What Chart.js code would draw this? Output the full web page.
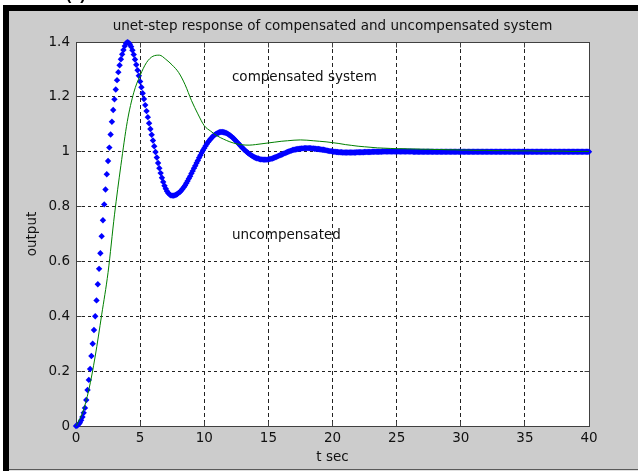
<!DOCTYPE html>
<html>
<head>
<meta charset="utf-8">
<script src="https://cdn.jsdelivr.net/npm/chart.js@4.4.1/dist/chart.umd.min.js"></script>
<style>
html,body{margin:0;padding:0;background:#fff;overflow:hidden}
#wrap{width:638px;height:471px;position:relative}
canvas{display:block}
</style>
</head>
<body>
<div id="wrap"><canvas id="c" width="638" height="471"></canvas></div>
<script>
// ---- texts and ticks ----
const titleText = 'unet-step response of compensated and uncompensated system';
const xLabel = 't sec';
const yLabel = 'output';
const xTicks = [0, 5, 10, 15, 20, 25, 30, 35, 40];
const xTickLabels = ['0', '5', '10', '15', '20', '25', '30', '35', '40'];
const yTicks = [0, 0.2, 0.4, 0.6, 0.8, 1.0, 1.2, 1.4];
const yTickLabels = ['0', '0.2', '0.4', '0.6', '0.8', '1', '1.2', '1.4'];
const noteTexts = ['compensated system', 'uncompensated'];
const noteT = [12.16, 12.16];
const noteV = [1.272, 0.695];

// ---- uncompensated response (blue markers), t = 0 .. 40, step 0.1 ----
const uncompStart = 0, uncompStep = 0.1;
const uncompensated = [
  // 0.0 - 8.0
  0.000, 0.002, 0.006, 0.012, 0.021, 0.033, 0.048, 0.066, 0.095, 0.131,
  0.168, 0.208, 0.255, 0.300, 0.350, 0.400, 0.458, 0.517, 0.573, 0.630,
  0.692, 0.750, 0.808, 0.862, 0.918, 0.966, 1.015, 1.063, 1.109, 1.152,
  1.191, 1.227, 1.261, 1.290, 1.315, 1.337, 1.355, 1.371, 1.385, 1.395,
  1.399, 1.397, 1.392, 1.383, 1.370, 1.354, 1.336, 1.317, 1.297, 1.277,
  1.256, 1.235, 1.213, 1.192, 1.170, 1.148, 1.126, 1.104, 1.083, 1.062,
  1.041, 1.020, 0.999, 0.979, 0.959, 0.940, 0.922, 0.905, 0.890, 0.876,
  0.865, 0.856, 0.849, 0.844, 0.841, 0.840, 0.840, 0.841, 0.843, 0.846,
  0.850,
  // 8.1 - 9.0
  0.853, 0.858, 0.864, 0.870, 0.877, 0.885, 0.893, 0.902, 0.911, 0.921,
  // 9.1 - 10.0
  0.930, 0.940, 0.949, 0.959, 0.968, 0.978, 0.987, 0.996, 1.005, 1.013,
  // 10.1 - 11.0
  1.021, 1.028, 1.035, 1.041, 1.047, 1.052, 1.057, 1.061, 1.064, 1.067,
  // 11.1 - 12.0
  1.069, 1.071, 1.072, 1.072, 1.071, 1.070, 1.068, 1.066, 1.063, 1.060,
  // 12.1 - 13.0
  1.056, 1.052, 1.048, 1.043, 1.038, 1.033, 1.028, 1.023, 1.018, 1.013,
  // 13.1 - 14.0
  1.008, 1.004, 1.000, 0.996, 0.992, 0.989, 0.986, 0.983, 0.980, 0.978,
  // 14.1 - 15.0
  0.976, 0.975, 0.973, 0.972, 0.972, 0.971, 0.971, 0.971, 0.971, 0.972,
  // 15.1 - 16.0
  0.973, 0.974, 0.975, 0.977, 0.979, 0.981, 0.983, 0.985, 0.987, 0.989,
  // 16.1 - 17.0
  0.991, 0.993, 0.995, 0.997, 0.999, 1.001, 1.003, 1.004, 1.006, 1.007,
  // 17.1 - 18.0
  1.008, 1.009, 1.010, 1.011, 1.011, 1.012, 1.012, 1.013, 1.013, 1.013,
  // 18.1 - 19.0
  1.013, 1.013, 1.013, 1.012, 1.012, 1.011, 1.011, 1.010, 1.010, 1.009,
  // 19.1 - 20.0
  1.008, 1.007, 1.007, 1.006, 1.005, 1.004, 1.003, 1.002, 1.002, 1.001,
  // 20.1 - 21.0
  1.000, 1.000, 0.999, 0.999, 0.998, 0.998, 0.998, 0.997, 0.997, 0.997,
  // 21.1 - 22.0
  0.997, 0.997, 0.997, 0.997, 0.997, 0.997, 0.997, 0.997, 0.998, 0.998,
  // 22.1 - 23.0
  0.998, 0.998, 0.998, 0.998, 0.999, 0.999, 0.999, 0.999, 0.999, 0.999,
  // 23.1 - 24.0
  1.000, 1.000, 1.000, 1.000, 1.000, 1.000, 1.000, 1.000, 1.001, 1.001,
  // 24.1 - 25.0
  1.001, 1.001, 1.001, 1.001, 1.001, 1.001, 1.001, 1.001, 1.001, 1.001,
  // 25.1 - 26.0
  1.001, 1.001, 1.001, 1.001, 1.001, 1.001, 1.001, 1.001, 1.001, 1.001,
  // 26.1 - 27.0
  1.001, 1.001, 1.000, 1.000, 1.000, 1.000, 1.000, 1.000, 1.000, 1.000,
  // 27.1 - 28.0
  1.000, 1.000, 1.000, 1.000, 1.000, 1.000, 1.000, 1.000, 1.000, 1.000,
  // 28.1 - 29.0
  1.000, 1.000, 1.000, 1.000, 1.000, 1.000, 1.000, 1.000, 1.000, 1.000,
  // 29.1 - 30.0
  1.000, 1.000, 1.000, 1.000, 1.000, 1.000, 1.000, 1.000, 1.000, 1.000,
  // 30.1 - 31.0
  1.000, 1.000, 1.000, 1.000, 1.000, 1.000, 1.000, 1.000, 1.000, 1.000,
  // 31.1 - 32.0
  1.000, 1.000, 1.000, 1.000, 1.000, 1.000, 1.000, 1.000, 1.000, 1.000,
  // 32.1 - 33.0
  1.000, 1.000, 1.000, 1.000, 1.000, 1.000, 1.000, 1.000, 1.000, 1.000,
  // 33.1 - 34.0
  1.000, 1.000, 1.000, 1.000, 1.000, 1.000, 1.000, 1.000, 1.000, 1.000,
  // 34.1 - 35.0
  1.000, 1.000, 1.000, 1.000, 1.000, 1.000, 1.000, 1.000, 1.000, 1.000,
  // 35.1 - 36.0
  1.000, 1.000, 1.000, 1.000, 1.000, 1.000, 1.000, 1.000, 1.000, 1.000,
  // 36.1 - 37.0
  1.000, 1.000, 1.000, 1.000, 1.000, 1.000, 1.000, 1.000, 1.000, 1.000,
  // 37.1 - 38.0
  1.000, 1.000, 1.000, 1.000, 1.000, 1.000, 1.000, 1.000, 1.000, 1.000,
  // 38.1 - 39.0
  1.000, 1.000, 1.000, 1.000, 1.000, 1.000, 1.000, 1.000, 1.000, 1.000,
  // 39.1 - 40.0
  1.000, 1.000, 1.000, 1.000, 1.000, 1.000, 1.000, 1.000, 1.000, 1.000
];

// ---- compensated response (green line), t = 0 .. 40, step 0.5 ----
const compStart = 0, compStep = 0.5;
const compensated = [
  0.000, 0.047, 0.132, 0.255, 0.405, 0.560, 0.770, 0.950, 1.110, 1.215,
  1.278, 1.325, 1.348, 1.352, 1.337, 1.316, 1.289, 1.245, 1.187, 1.138,
  1.095, 1.075, 1.058, 1.046, 1.036, 1.029, 1.025, 1.024, 1.026, 1.029,
  1.032, 1.035, 1.038, 1.040, 1.042, 1.043, 1.042, 1.040, 1.038, 1.036,
  1.033, 1.030, 1.026, 1.023, 1.020, 1.018, 1.016, 1.014, 1.013, 1.012,
  1.011, 1.011, 1.010, 1.010, 1.009, 1.009, 1.008, 1.008, 1.007, 1.007,
  1.006, 1.006, 1.005, 1.005, 1.005, 1.004, 1.004, 1.004, 1.003, 1.003,
  1.003, 1.003, 1.002, 1.002, 1.002, 1.002, 1.002, 1.001, 1.001, 1.001,
  1.001
];

const toXY = (arr, t0, dt) => arr.map((v, i) => ({ x: +(t0 + i * dt).toFixed(3), y: v }));
const blueData = toXY(uncompensated, uncompStart, uncompStep);
const greenData = toXY(compensated, compStart, compStep);

const FONT = 'DejaVu Sans';
const TXT = '#111111';
const alignPx = p => Math.round(p - 0.5) + 0.5;

const framePlugin = {
  id: 'frame',
  beforeDraw(chart) {
    const ctx = chart.ctx;
    const W = chart.width, H = chart.height;
    ctx.save();
    ctx.fillStyle = '#ffffff';
    ctx.fillRect(0, 0, W, H);
    ctx.fillStyle = '#000';
    ctx.font = 'bold 16px "Liberation Sans"';
    ctx.textBaseline = 'alphabetic';
    ctx.textAlign = 'left';
    ctx.fillText('(a)', 66, 0);
    ctx.fillStyle = '#cccccc';
    ctx.fillRect(9, 11, W - 9, H - 11);
    ctx.fillStyle = '#000000';
    ctx.fillRect(3, 5, W - 3, 6);
    ctx.fillRect(3, 5, 6, H - 5);
    ctx.fillStyle = '#5a5a5a';
    ctx.fillRect(9, 469, W - 9, 1);
    ctx.fillStyle = '#e0e0e0';
    ctx.fillRect(9, 470, W - 9, 1);
    const a = chart.chartArea;
    ctx.fillStyle = '#ffffff';
    ctx.fillRect(a.left, a.top, a.right - a.left, a.bottom - a.top);
    ctx.restore();
  },
  beforeDatasetsDraw(chart) {
    const ctx = chart.ctx;
    const a = chart.chartArea;
    const xs = chart.scales.x, ys = chart.scales.y;
    const L = alignPx(a.left), R = alignPx(a.right), T = alignPx(a.top), B = alignPx(a.bottom);
    ctx.save();
    ctx.strokeStyle = '#404040';
    ctx.lineWidth = 1;
    ctx.setLineDash([]);
    ctx.strokeRect(L, T, R - L, B - T);
    ctx.beginPath();
    const tl = 5;
    xTicks.forEach(v => {
      const px = alignPx(xs.getPixelForValue(v));
      ctx.moveTo(px, B); ctx.lineTo(px, B - tl);
      ctx.moveTo(px, T); ctx.lineTo(px, T + tl);
    });
    yTicks.forEach(v => {
      const py = alignPx(ys.getPixelForValue(v));
      ctx.moveTo(L, py); ctx.lineTo(L + tl, py);
      ctx.moveTo(R, py); ctx.lineTo(R - tl, py);
    });
    ctx.stroke();
    ctx.restore();
  },
  afterDraw(chart) {
    const ctx = chart.ctx;
    const a = chart.chartArea;
    const xs = chart.scales.x, ys = chart.scales.y;
    ctx.save();
    ctx.fillStyle = TXT;
    ctx.font = '13.5px "' + FONT + '"';
    ctx.textAlign = 'center';
    ctx.textBaseline = 'alphabetic';
    ctx.fillText(titleText, (a.left + a.right) / 2, 30);
    ctx.textAlign = 'left';
    ctx.textBaseline = 'middle';
    noteTexts.forEach((s, i) => {
      ctx.fillText(s, xs.getPixelForValue(noteT[i]), ys.getPixelForValue(noteV[i]));
    });
    ctx.restore();
  }
};

const tickFont = { family: FONT, size: 13.5 };

new Chart(document.getElementById('c').getContext('2d'), {
  type: 'line',
  data: {
    datasets: [
      {
        label: 'compensated',
        data: greenData,
        borderColor: '#008000',
        borderWidth: 1,
        pointRadius: 0,
        fill: false,
        cubicInterpolationMode: 'monotone',
        clip: false
      },
      {
        label: 'uncompensated',
        data: blueData,
        showLine: false,
        pointStyle: 'rectRot',
        pointRadius: 3.2,
        pointBackgroundColor: '#0000ff',
        pointBorderColor: '#0000ff',
        pointBorderWidth: 0,
        borderColor: '#0000ff',
        clip: false
      }
    ]
  },
  options: {
    responsive: false,
    animation: false,
    devicePixelRatio: 1,
    events: [],
    layout: { padding: { left: 10, right: 49, top: 42, bottom: 5 } },
    plugins: { legend: { display: false }, tooltip: { enabled: false }, title: { display: false } },
    scales: {
      x: {
        type: 'linear', min: 0, max: 40,
        afterBuildTicks: s => { s.ticks = xTicks.map(v => ({ value: v })); },
        afterFit: s => { s.height = 40; },
        ticks: { padding: 4.5, color: TXT, font: tickFont, maxRotation: 0, autoSkip: false,
                 callback: (v, i) => xTickLabels[i] },
        grid: { color: '#222222', lineWidth: 1, drawTicks: false },
        border: { display: false, dash: [4, 3] },
        title: { display: true, text: xLabel, color: TXT, font: tickFont, padding: { top: 0, bottom: 0 } }
      },
      y: {
        type: 'linear', min: 0, max: 1.4,
        afterBuildTicks: s => { s.ticks = yTicks.map(v => ({ value: v })); },
        afterFit: s => { s.width = 66; },
        ticks: { padding: 6, color: TXT, font: tickFont, autoSkip: false,
                 callback: (v, i) => yTickLabels[i] },
        grid: { color: '#222222', lineWidth: 1, drawTicks: false },
        border: { display: false, dash: [3, 3] },
        title: { display: true, text: yLabel, color: TXT, font: tickFont, padding: { top: 14.4, bottom: 0 } }
      }
    }
  },
  plugins: [framePlugin]
});
</script>
</body>
</html>
